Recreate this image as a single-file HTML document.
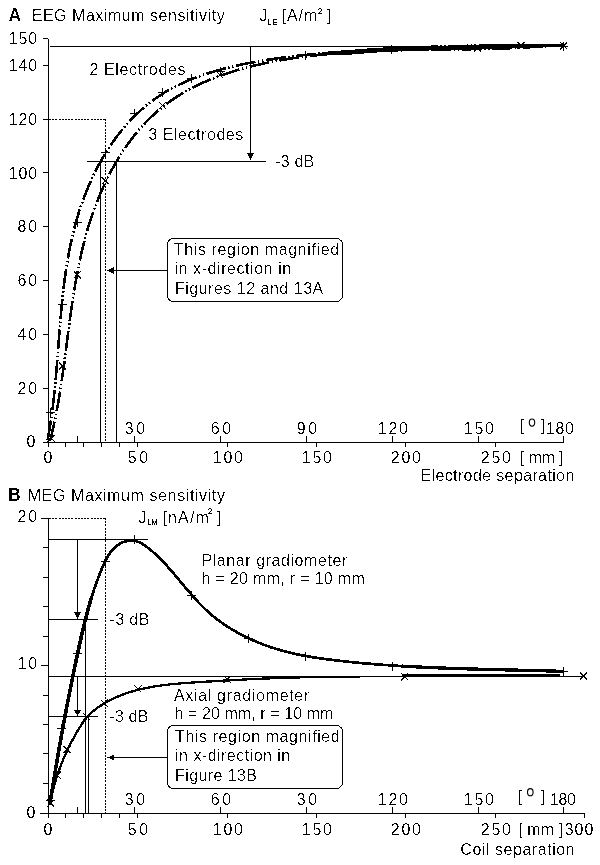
<!DOCTYPE html>
<html><head><meta charset="utf-8"><title>EEG/MEG maximum sensitivity</title>
<style>
html,body{margin:0;padding:0;background:#fff;}
svg{display:block;filter:grayscale(1);}
text{font-family:"Liberation Sans", sans-serif;fill:#000;}
</style></head><body>
<svg width="600" height="865" viewBox="0 0 600 865" shape-rendering="crispEdges">
<defs><filter id="bin" x="0" y="0" width="600" height="865" filterUnits="userSpaceOnUse"><feComponentTransfer><feFuncA type="discrete" tableValues="0 0 0 0 0 0 0 0 0 0 0 0 1 1 1 1 1 1 1 1"/></feComponentTransfer></filter></defs>
<rect width="600" height="865" fill="#fff"/>
<g filter="url(#bin)">
<text x="8.50" y="21.00" font-size="17.5" font-weight="bold">A</text>
<text x="31.70" y="21.00" font-size="16" letter-spacing="0.53">EEG Maximum sensitivity</text>
<text x="259.50" y="21.00" font-size="16">J</text>
<text x="281.70" y="21.00" font-size="16" letter-spacing="0.91">[A/m</text>
<text x="326.50" y="21.00" font-size="16">]</text>
<rect x="43" y="38" width="5" height="1"/>
<rect x="48" y="39" width="1" height="404"/>
<text x="8.71" y="44.00" font-size="16" letter-spacing="0.90">150</text>
<rect x="43" y="65" width="5" height="1"/>
<text x="8.71" y="71.00" font-size="16" letter-spacing="0.90">140</text>
<rect x="43" y="119" width="5" height="1"/>
<text x="8.71" y="125.00" font-size="16" letter-spacing="0.90">120</text>
<rect x="43" y="172" width="5" height="1"/>
<text x="8.71" y="179.00" font-size="16" letter-spacing="0.90">100</text>
<rect x="43" y="226" width="5" height="1"/>
<text x="17.59" y="232.00" font-size="16" letter-spacing="1.80">80</text>
<rect x="43" y="280" width="5" height="1"/>
<text x="17.59" y="286.00" font-size="16" letter-spacing="1.80">60</text>
<rect x="43" y="334" width="5" height="1"/>
<text x="17.59" y="340.00" font-size="16" letter-spacing="1.80">40</text>
<rect x="43" y="388" width="5" height="1"/>
<text x="17.59" y="394.00" font-size="16" letter-spacing="1.80">20</text>
<rect x="43" y="442" width="5" height="1"/>
<text x="26.52" y="447.00" font-size="16">0</text>
<rect x="43" y="442" width="521" height="1"/>
<rect x="48" y="443" width="1" height="4"/>
<rect x="65" y="443" width="1" height="4"/>
<rect x="83" y="443" width="1" height="4"/>
<rect x="101" y="443" width="1" height="4"/>
<rect x="119" y="443" width="1" height="4"/>
<rect x="137" y="443" width="1" height="4"/>
<rect x="227" y="443" width="1" height="4"/>
<rect x="316" y="443" width="1" height="4"/>
<rect x="405" y="443" width="1" height="4"/>
<rect x="495" y="443" width="1" height="4"/>
<rect x="77" y="436" width="1" height="6"/>
<rect x="134" y="436" width="1" height="6"/>
<rect x="220" y="436" width="1" height="6"/>
<rect x="306" y="436" width="1" height="6"/>
<rect x="392" y="436" width="1" height="6"/>
<rect x="478" y="436" width="1" height="6"/>
<rect x="563" y="436" width="1" height="6"/>
<text x="124.69" y="434.00" font-size="16" letter-spacing="2.60">30</text>
<text x="210.69" y="434.00" font-size="16" letter-spacing="2.60">60</text>
<text x="296.69" y="434.00" font-size="16" letter-spacing="2.60">90</text>
<text x="377.86" y="434.00" font-size="16" letter-spacing="1.70">120</text>
<text x="463.86" y="434.00" font-size="16" letter-spacing="1.70">150</text>
<text x="519.80" y="431.00" font-size="16">[</text>
<text x="541.20" y="431.00" font-size="16">]</text>
<text x="546.00" y="434.00" font-size="16" letter-spacing="0.56">180</text>
<text x="43.56" y="463.00" font-size="16">0</text>
<text x="127.69" y="463.00" font-size="16" letter-spacing="2.60">50</text>
<text x="212.86" y="463.00" font-size="16" letter-spacing="1.70">100</text>
<text x="301.86" y="463.00" font-size="16" letter-spacing="1.70">150</text>
<text x="390.86" y="463.00" font-size="16" letter-spacing="1.70">200</text>
<text x="480.86" y="463.00" font-size="16" letter-spacing="1.70">250</text>
<text x="520.00" y="463.00" font-size="16" letter-spacing="-0.13">[ mm ]</text>
<text x="420.50" y="481.00" font-size="16" letter-spacing="0.37">Electrode separation</text>
<rect x="50" y="46" width="514" height="1"/>
<rect x="250" y="47" width="1" height="107"/>
<path d="M246.75,153.00 L254.25,153.00 L250.50,160.00 Z" fill="#000"/>
<rect x="87" y="161" width="179" height="1"/>
<text x="275.30" y="167.00" font-size="16" letter-spacing="0.14">-3 dB</text>
<rect x="100" y="162" width="1" height="280"/>
<rect x="116" y="162" width="1" height="280"/>
<line x1="49" y1="119.5" x2="106" y2="119.5" stroke="#000" stroke-width="1" stroke-dasharray="2 1.2"/>
<line x1="105.5" y1="119" x2="105.5" y2="442" stroke="#000" stroke-width="1" stroke-dasharray="2 1.2"/>
<text x="89.40" y="75.00" font-size="16" letter-spacing="0.65">2 Electrodes</text>
<text x="148.30" y="140.00" font-size="16" letter-spacing="0.55">3 Electrodes</text>
<rect x="167.5" y="238.5" width="175" height="63" rx="6" ry="6" fill="none" stroke="#000"/>
<rect x="113" y="270" width="55" height="1"/>
<path d="M114.00,267.25 L114.00,273.75 L107.00,270.50 Z" fill="#000"/>
<text x="173.80" y="255.00" font-size="16" letter-spacing="0.62">This region magnified</text>
<text x="174.50" y="274.00" font-size="16" letter-spacing="0.57">in x-direction in</text>
<text x="174.90" y="294.00" font-size="16" letter-spacing="0.51">Figures 12 and 13A</text>
<path d="M47.57,440.27 L47.93,438.38 L48.29,436.49 L48.63,434.59 L48.97,432.70 L49.30,430.80 L49.62,428.90 L49.93,426.99 L50.24,425.08 L50.53,423.17 L50.83,421.26 L51.11,419.34 L51.38,417.42 L51.65,415.50 L51.92,413.57 L52.17,411.65 L52.42,409.72 L52.67,407.78 L52.91,405.85 L53.14,403.91 L53.37,401.97 L53.59,400.03 L53.81,398.09 L54.02,396.14 L54.23,394.20 L54.43,392.25 L54.63,390.30 L54.82,388.34 L55.01,386.39 L55.20,384.43 L55.38,382.47 L55.56,380.51 L55.74,378.55 L55.91,376.59 L56.08,374.63 L56.25,372.66 L56.42,370.69 L56.58,368.72 L56.74,366.75 L56.90,364.78 L57.06,362.81 L57.22,360.84 L57.37,358.86 L57.53,356.89 L57.68,354.91 L57.83,352.94 L57.98,350.96 L58.14,348.98 L58.29,347.00 L58.44,345.02 L58.59,343.04 L58.74,341.06 L58.89,339.08 L59.05,337.10 L59.20,335.12 L59.36,333.13 L59.51,331.15 L59.67,329.17 L59.83,327.19 L59.99,325.20 L60.16,323.22 L60.32,321.24 L60.49,319.25 L60.66,317.27 L60.83,315.29 L61.01,313.31 L61.19,311.32 L61.38,309.34 L61.56,307.36 L61.75,305.38 L61.95,303.40 L62.15,301.42 L62.35,299.44 L62.56,297.46 L62.77,295.48 L62.99,293.51 L63.21,291.53 L63.44,289.56 L63.67,287.58 L63.91,285.61 L64.15,283.64 L64.40,281.66 L64.66,279.69 L64.92,277.73 L65.19,275.76 L65.47,273.79 L65.75,271.83 L66.04,269.86 L66.34,267.90 L66.65,265.94 L66.96,263.98 L67.28,262.03 L67.61,260.07 L67.95,258.12 L68.29,256.17 L68.65,254.22 L69.01,252.27 L69.38,250.32 L69.76,248.38 L70.16,246.44 L70.56,244.50 L70.97,242.56 L71.39,240.63 L71.82,238.69 L72.26,236.76 L72.71,234.84 L73.17,232.91 L73.64,230.99 L74.13,229.07 L74.62,227.15 L75.13,225.24 L75.65,223.32 L76.18,221.41 L76.72,219.51 L77.28,217.60 L77.84,215.70 L78.42,213.81 L79.01,211.91 L79.62,210.02 L80.24,208.13 L80.87,206.25 L81.51,204.37 L82.17,202.49 L82.84,200.62 L83.52,198.76 L84.22,196.89 L84.93,195.04 L85.65,193.18 L86.38,191.34 L87.13,189.50 L87.89,187.66 L88.67,185.83 L89.46,184.01 L90.26,182.19 L91.07,180.38 L91.90,178.58 L92.74,176.78 L93.59,175.00 L94.46,173.21 L95.34,171.44 L96.23,169.68 L97.14,167.92 L98.06,166.17 L98.99,164.43 L99.94,162.70 L100.90,160.98 L101.88,159.27 L102.87,157.57 L103.87,155.87 L104.88,154.19 L105.91,152.52 L106.95,150.86 L108.01,149.21 L109.08,147.56 L110.16,145.94 L111.25,144.32 L112.36,142.71 L113.49,141.12 L114.63,139.53 L115.78,137.96 L116.94,136.40 L118.12,134.86 L119.31,133.32 L120.52,131.80 L121.74,130.30 L122.97,128.80 L124.22,127.33 L125.48,125.86 L126.76,124.41 L128.05,122.97 L129.35,121.55 L130.67,120.14 L132.00,118.75 L133.35,117.37 L134.71,116.01 L136.08,114.66 L137.47,113.33 L138.87,112.02 L140.29,110.72 L141.72,109.44 L143.16,108.17 L144.62,106.93 L146.09,105.70 L147.58,104.48 L149.08,103.29 L150.60,102.11 L152.12,100.95 L153.67,99.81 L155.23,98.69 L156.80,97.58 L158.39,96.50 L159.99,95.43 L161.60,94.38 L163.24,93.36 L164.88,92.35 L166.54,91.36 L168.21,90.39 L169.90,89.44 L171.59,88.51 L173.31,87.60 L175.03,86.70 L176.77,85.82 L178.51,84.96 L180.27,84.12 L182.04,83.30 L183.82,82.49 L185.61,81.69 L187.42,80.92 L189.23,80.16 L191.05,79.41 L192.88,78.69 L194.72,77.97 L196.57,77.27 L198.42,76.59 L200.29,75.92 L202.16,75.27 L204.04,74.62 L205.92,74.00 L207.81,73.38 L209.71,72.78 L211.62,72.19 L213.53,71.62 L215.44,71.06 L217.37,70.51 L219.29,69.97 L221.22,69.44 L223.16,68.93 L225.10,68.42 L227.04,67.93 L228.98,67.45 L230.93,66.97 L232.88,66.51 L234.83,66.06 L236.79,65.62 L238.74,65.19 L240.70,64.76 L242.66,64.35 L244.62,63.94 L246.58,63.54 L248.54,63.15 L250.51,62.77 L252.47,62.40 L254.44,62.04 L256.40,61.68 L258.37,61.33 L260.34,60.99 L262.31,60.66 L264.28,60.33 L266.25,60.01 L268.22,59.70 L270.19,59.40 L272.16,59.10 L274.13,58.81 L276.10,58.52 L278.08,58.25 L280.05,57.97 L282.03,57.71 L284.00,57.45 L285.97,57.19 L287.95,56.94 L289.92,56.70 L291.90,56.46 L293.88,56.22 L295.85,56.00 L297.83,55.77 L299.80,55.55 L301.78,55.34 L303.75,55.13 L305.73,54.92 L307.71,54.72 L309.68,54.52 L311.66,54.33 L313.63,54.14 L315.61,53.95 L317.58,53.77 L319.55,53.59 L321.53,53.41 L323.50,53.23 L325.47,53.06 L327.45,52.89 L329.42,52.73 L331.39,52.56 L333.36,52.40 L335.33,52.24 L337.30,52.08 L339.26,51.93 L341.23,51.77 L343.20,51.62 L345.17,51.47 L347.13,51.33 L349.10,51.18 L351.06,51.04 L353.03,50.90 L354.99,50.76 L356.96,50.62 L358.92,50.49 L360.88,50.35 L362.85,50.22 L364.81,50.10 L366.77,49.97 L368.73,49.84 L370.69,49.72 L372.65,49.60 L374.62,49.48 L376.58,49.36 L378.54,49.25 L380.50,49.14 L382.46,49.02 L384.42,48.92 L386.37,48.81 L388.33,48.70 L390.29,48.60 L392.25,48.50 L394.21,48.40 L396.17,48.30 L398.13,48.20 L400.09,48.10 L402.04,48.01 L404.00,47.92 L405.96,47.83 L407.92,47.74 L409.88,47.66 L411.84,47.57 L413.79,47.49 L415.75,47.41 L417.71,47.33 L419.67,47.25 L421.63,47.17 L423.59,47.09 L425.55,47.02 L427.51,46.95 L429.47,46.88 L431.42,46.81 L433.38,46.74 L435.34,46.68 L437.30,46.61 L439.26,46.55 L441.23,46.49 L443.19,46.43 L445.15,46.37 L447.11,46.31 L449.07,46.25 L451.03,46.20 L453.00,46.15 L454.96,46.09 L456.92,46.04 L458.88,45.99 L460.85,45.95 L462.81,45.90 L464.78,45.85 L466.74,45.81 L468.71,45.77 L470.68,45.72 L472.64,45.68 L474.61,45.65 L476.58,45.61 L478.55,45.57 L480.52,45.53 L482.49,45.50 L484.46,45.47 L486.43,45.43 L488.40,45.40 L490.37,45.37 L492.35,45.35 L494.32,45.32 L496.29,45.29 L498.27,45.26 L500.25,45.24 L502.22,45.22 L504.20,45.19 L506.18,45.17 L508.16,45.15 L510.14,45.13 L512.12,45.11 L514.10,45.10 L516.08,45.08 L518.07,45.06 L520.05,45.05 L522.03,45.03 L524.02,45.02 L526.01,45.01 L528.00,45.00 L529.99,44.99 L531.98,44.98 L533.97,44.97 L535.96,44.96 L537.95,44.95 L539.95,44.94 L541.94,44.94 L543.94,44.93 L545.94,44.93 L547.94,44.92 L549.94,44.92 L551.94,44.92 L553.94,44.91 L555.94,44.91 L557.95,44.91 L559.95,44.91 L561.96,44.91 L563.97,44.91" fill="none" stroke="#000" stroke-width="2.6" stroke-dasharray="20 2.5 1.5 2.5 1.5 2.5"/>
<path d="M50.04,441.02 L50.51,439.17 L50.98,437.31 L51.43,435.45 L51.88,433.59 L52.32,431.72 L52.75,429.86 L53.17,427.99 L53.59,426.12 L54.00,424.24 L54.40,422.37 L54.80,420.49 L55.18,418.61 L55.56,416.73 L55.94,414.85 L56.30,412.96 L56.67,411.08 L57.02,409.19 L57.37,407.30 L57.71,405.41 L58.05,403.52 L58.38,401.62 L58.71,399.73 L59.03,397.83 L59.35,395.93 L59.66,394.03 L59.97,392.13 L60.27,390.22 L60.57,388.32 L60.87,386.41 L61.16,384.51 L61.44,382.60 L61.73,380.69 L62.01,378.78 L62.29,376.87 L62.56,374.95 L62.83,373.04 L63.10,371.13 L63.37,369.21 L63.63,367.30 L63.89,365.38 L64.15,363.46 L64.41,361.54 L64.66,359.62 L64.92,357.70 L65.17,355.78 L65.42,353.86 L65.68,351.94 L65.93,350.02 L66.17,348.10 L66.42,346.17 L66.67,344.25 L66.92,342.33 L67.17,340.40 L67.42,338.48 L67.67,336.56 L67.92,334.63 L68.17,332.71 L68.42,330.78 L68.67,328.86 L68.93,326.93 L69.18,325.01 L69.44,323.08 L69.70,321.16 L69.96,319.24 L70.22,317.31 L70.48,315.39 L70.75,313.46 L71.02,311.54 L71.29,309.62 L71.57,307.70 L71.85,305.77 L72.13,303.85 L72.41,301.93 L72.70,300.01 L73.00,298.09 L73.29,296.17 L73.59,294.25 L73.90,292.33 L74.21,290.42 L74.52,288.50 L74.84,286.59 L75.17,284.67 L75.50,282.76 L75.83,280.84 L76.17,278.93 L76.52,277.02 L76.87,275.11 L77.23,273.20 L77.59,271.30 L77.96,269.39 L78.34,267.48 L78.72,265.58 L79.11,263.68 L79.51,261.78 L79.91,259.88 L80.32,257.98 L80.74,256.08 L81.17,254.19 L81.61,252.29 L82.05,250.40 L82.50,248.51 L82.96,246.62 L83.43,244.73 L83.91,242.85 L84.39,240.97 L84.89,239.08 L85.39,237.20 L85.91,235.33 L86.43,233.45 L86.97,231.58 L87.51,229.70 L88.06,227.83 L88.63,225.97 L89.20,224.10 L89.79,222.24 L90.38,220.38 L90.99,218.52 L91.61,216.66 L92.24,214.81 L92.88,212.95 L93.53,211.10 L94.19,209.26 L94.87,207.41 L95.56,205.57 L96.26,203.74 L96.97,201.90 L97.69,200.07 L98.42,198.25 L99.17,196.43 L99.93,194.61 L100.70,192.80 L101.48,190.99 L102.27,189.19 L103.08,187.40 L103.90,185.61 L104.73,183.82 L105.57,182.04 L106.42,180.27 L107.29,178.51 L108.17,176.75 L109.06,175.00 L109.96,173.26 L110.87,171.52 L111.80,169.79 L112.74,168.07 L113.69,166.36 L114.66,164.66 L115.63,162.96 L116.62,161.28 L117.62,159.60 L118.63,157.94 L119.66,156.28 L120.70,154.63 L121.75,153.00 L122.81,151.37 L123.89,149.75 L124.97,148.15 L126.07,146.55 L127.19,144.97 L128.31,143.40 L129.45,141.84 L130.60,140.29 L131.77,138.76 L132.94,137.24 L134.13,135.73 L135.33,134.23 L136.55,132.75 L137.78,131.28 L139.02,129.82 L140.27,128.38 L141.54,126.95 L142.82,125.53 L144.11,124.13 L145.41,122.75 L146.73,121.38 L148.06,120.02 L149.41,118.68 L150.76,117.36 L152.14,116.05 L153.52,114.76 L154.92,113.49 L156.33,112.23 L157.75,110.99 L159.19,109.76 L160.64,108.56 L162.10,107.37 L163.57,106.19 L165.06,105.04 L166.57,103.90 L168.08,102.78 L169.61,101.68 L171.15,100.59 L172.70,99.52 L174.26,98.47 L175.84,97.43 L177.42,96.41 L179.02,95.41 L180.63,94.42 L182.25,93.44 L183.88,92.48 L185.52,91.54 L187.17,90.62 L188.83,89.70 L190.50,88.81 L192.18,87.92 L193.87,87.06 L195.57,86.20 L197.28,85.37 L199.00,84.54 L200.73,83.73 L202.47,82.94 L204.21,82.15 L205.97,81.39 L207.73,80.63 L209.50,79.89 L211.27,79.16 L213.06,78.45 L214.85,77.74 L216.65,77.06 L218.46,76.38 L220.27,75.71 L222.09,75.06 L223.92,74.42 L225.75,73.80 L227.59,73.18 L229.43,72.58 L231.28,71.99 L233.14,71.40 L235.00,70.84 L236.87,70.28 L238.74,69.73 L240.62,69.20 L242.50,68.67 L244.39,68.16 L246.28,67.65 L248.17,67.16 L250.07,66.68 L251.97,66.20 L253.88,65.74 L255.79,65.29 L257.70,64.84 L259.62,64.41 L261.53,63.98 L263.46,63.57 L265.38,63.16 L267.30,62.76 L269.23,62.37 L271.16,61.99 L273.09,61.62 L275.03,61.25 L276.96,60.90 L278.90,60.55 L280.83,60.21 L282.77,59.88 L284.71,59.55 L286.65,59.24 L288.59,58.93 L290.52,58.62 L292.46,58.33 L294.40,58.04 L296.34,57.76 L298.28,57.48 L300.22,57.21 L302.16,56.95 L304.09,56.70 L306.03,56.45 L307.97,56.20 L309.91,55.97 L311.85,55.74 L313.79,55.51 L315.72,55.29 L317.66,55.08 L319.60,54.87 L321.54,54.67 L323.48,54.48 L325.41,54.29 L327.35,54.10 L329.29,53.92 L331.23,53.75 L333.17,53.58 L335.10,53.42 L337.04,53.26 L338.98,53.10 L340.92,52.95 L342.85,52.81 L344.79,52.67 L346.73,52.53 L348.67,52.40 L350.60,52.28 L352.54,52.15 L354.48,52.03 L356.42,51.92 L358.35,51.81 L360.29,51.70 L362.23,51.60 L364.17,51.50 L366.10,51.41 L368.04,51.32 L369.98,51.23 L371.91,51.14 L373.85,51.06 L375.79,50.98 L377.73,50.91 L379.66,50.84 L381.60,50.77 L383.54,50.70 L385.47,50.64 L387.41,50.58 L389.35,50.52 L391.28,50.46 L393.22,50.41 L395.16,50.36 L397.09,50.31 L399.03,50.26 L400.97,50.22 L402.90,50.17 L404.84,50.13 L406.78,50.09 L408.71,50.06 L410.65,50.02 L412.59,49.99 L414.52,49.95 L416.46,49.92 L418.40,49.89 L420.33,49.86 L422.27,49.83 L424.21,49.81 L426.14,49.78 L428.08,49.75 L430.01,49.73 L431.95,49.70 L433.89,49.68 L435.82,49.66 L437.76,49.63 L439.70,49.61 L441.63,49.59 L443.57,49.57 L445.50,49.54 L447.44,49.52 L449.38,49.50 L451.31,49.48 L453.25,49.45 L455.18,49.43 L457.12,49.40 L459.06,49.38 L460.99,49.35 L462.93,49.33 L464.86,49.30 L466.80,49.27 L468.74,49.24 L470.67,49.21 L472.61,49.18 L474.54,49.15 L476.48,49.11 L478.42,49.08 L480.35,49.04 L482.29,49.00 L484.22,48.96 L486.16,48.91 L488.09,48.87 L490.03,48.82 L491.97,48.77 L493.90,48.72 L495.84,48.67 L497.77,48.61 L499.71,48.55 L501.65,48.49 L503.58,48.43 L505.52,48.36 L507.45,48.29 L509.39,48.22 L511.32,48.14 L513.26,48.06 L515.19,47.98 L517.13,47.90 L519.07,47.81 L521.00,47.72 L522.94,47.62 L524.87,47.52 L526.81,47.42 L528.74,47.31 L530.68,47.20 L532.61,47.09 L534.55,46.97 L536.49,46.84 L538.42,46.72 L540.36,46.59 L542.29,46.45 L544.23,46.31 L546.16,46.16 L548.10,46.01 L550.03,45.86 L551.97,45.70 L553.91,45.53 L555.84,45.36 L557.78,45.19 L559.71,45.01 L561.65,44.82 L563.58,44.63" fill="none" stroke="#000" stroke-width="2.6" stroke-dasharray="20 2.5 1.5 2.5 1.5 2.5"/>
<path d="M320.0,53.00 L330.0,51.35 L350.0,49.92 L370.0,48.25 L390.0,47.08 L420.0,46.26 L450.0,45.64 L477.5,44.95 L500.0,44.38 L520.0,44.10 L545.0,43.89 L563.7,43.85 L563.7,47.15 L545.0,47.31 L520.0,47.70 L500.0,48.22 L477.5,49.05 L450.0,49.96 L420.0,50.74 L390.0,51.72 L370.0,52.95 L350.0,54.68 L330.0,55.25 L320.0,56.00 Z" fill="#000"/>
<path d="M46.1,412.4H55.1M50.6,407.9V416.9" stroke="#000" stroke-width="1" fill="none"/>
<path d="M58.1,304.8H67.1M62.6,300.3V309.3" stroke="#000" stroke-width="1" fill="none"/>
<path d="M72.6,222H81.6M77.1,217.5V226.5" stroke="#000" stroke-width="1" fill="none"/>
<path d="M101.1,152H110.1M105.6,147.5V156.5" stroke="#000" stroke-width="1" fill="none"/>
<path d="M129.5,113.5H138.5M134,109.0V118.0" stroke="#000" stroke-width="1" fill="none"/>
<path d="M158.0,92.9H167.0M162.5,88.4V97.4" stroke="#000" stroke-width="1" fill="none"/>
<path d="M187.0,78.5H196.0M191.5,74.0V83.0" stroke="#000" stroke-width="1" fill="none"/>
<path d="M216.0,71H225.0M220.5,66.5V75.5" stroke="#000" stroke-width="1" fill="none"/>
<path d="M300.5,55.6H309.5M305,51.1V60.1" stroke="#000" stroke-width="1" fill="none"/>
<path d="M387.1,49.5H396.1M391.6,45.0V54.0" stroke="#000" stroke-width="1" fill="none"/>
<path d="M559.2,46H568.2M563.7,41.5V50.5" stroke="#000" stroke-width="1" fill="none"/>
<path d="M47.8,434.9L54.8,441.9M47.8,441.9L54.8,434.9" stroke="#000" stroke-width="1" fill="none"/>
<path d="M59.1,362.5L66.1,369.5M59.1,369.5L66.1,362.5" stroke="#000" stroke-width="1" fill="none"/>
<path d="M73.7,271.4L80.7,278.4M73.7,278.4L80.7,271.4" stroke="#000" stroke-width="1" fill="none"/>
<path d="M101.8,177.2L108.8,184.2M101.8,184.2L108.8,177.2" stroke="#000" stroke-width="1" fill="none"/>
<path d="M159.0,101.9L166.0,108.9M159.0,108.9L166.0,101.9" stroke="#000" stroke-width="1" fill="none"/>
<path d="M216.5,71.3L223.5,78.3M216.5,78.3L223.5,71.3" stroke="#000" stroke-width="1" fill="none"/>
<path d="M474.0,44.5L481.0,51.5M474.0,51.5L481.0,44.5" stroke="#000" stroke-width="1" fill="none"/>
<path d="M517.5,42.2L524.5,49.2M517.5,49.2L524.5,42.2" stroke="#000" stroke-width="1" fill="none"/>
<path d="M560.2,42.5L567.2,49.5M560.2,49.5L567.2,42.5" stroke="#000" stroke-width="1" fill="none"/>
<text x="7.90" y="501.00" font-size="17.5" font-weight="bold">B</text>
<text x="27.70" y="501.00" font-size="16" letter-spacing="0.60">MEG Maximum sensitivity</text>
<text x="138.40" y="522.50" font-size="16">J</text>
<text x="162.50" y="522.50" font-size="16" letter-spacing="1.12">[nA/m</text>
<text x="217.00" y="522.50" font-size="16">]</text>
<rect x="48" y="518" width="1" height="296"/>
<rect x="41" y="518" width="7" height="1"/>
<text x="17.59" y="522.00" font-size="16" letter-spacing="1.80">20</text>
<rect x="43" y="547" width="5" height="1"/>
<rect x="43" y="577" width="5" height="1"/>
<rect x="43" y="606" width="5" height="1"/>
<rect x="43" y="636" width="5" height="1"/>
<rect x="41" y="665" width="7" height="1"/>
<text x="17.59" y="669.00" font-size="16" letter-spacing="1.80">10</text>
<rect x="43" y="695" width="5" height="1"/>
<rect x="43" y="724" width="5" height="1"/>
<rect x="43" y="753" width="5" height="1"/>
<rect x="43" y="783" width="5" height="1"/>
<rect x="41" y="813" width="7" height="1"/>
<text x="26.52" y="818.00" font-size="16">0</text>
<rect x="40" y="813" width="545" height="1"/>
<rect x="48" y="814" width="1" height="4"/>
<rect x="65" y="814" width="1" height="4"/>
<rect x="83" y="814" width="1" height="4"/>
<rect x="101" y="814" width="1" height="4"/>
<rect x="119" y="814" width="1" height="4"/>
<rect x="137" y="814" width="1" height="4"/>
<rect x="227" y="814" width="1" height="4"/>
<rect x="316" y="814" width="1" height="4"/>
<rect x="405" y="814" width="1" height="4"/>
<rect x="495" y="814" width="1" height="4"/>
<rect x="584" y="814" width="1" height="4"/>
<rect x="77" y="807" width="1" height="6"/>
<rect x="134" y="807" width="1" height="6"/>
<rect x="220" y="807" width="1" height="6"/>
<rect x="306" y="807" width="1" height="6"/>
<rect x="392" y="807" width="1" height="6"/>
<rect x="478" y="807" width="1" height="6"/>
<rect x="563" y="807" width="1" height="6"/>
<text x="124.69" y="805.00" font-size="16" letter-spacing="2.60">30</text>
<text x="210.69" y="805.00" font-size="16" letter-spacing="2.60">60</text>
<text x="296.69" y="805.00" font-size="16" letter-spacing="2.60">30</text>
<text x="377.86" y="805.00" font-size="16" letter-spacing="1.70">120</text>
<text x="463.86" y="805.00" font-size="16" letter-spacing="1.70">150</text>
<text x="517.80" y="802.00" font-size="16">[</text>
<text x="540.80" y="802.00" font-size="16">]</text>
<text x="550.00" y="805.00" font-size="16" letter-spacing="-0.34">180</text>
<text x="43.56" y="835.00" font-size="16">0</text>
<text x="127.69" y="835.00" font-size="16" letter-spacing="2.60">50</text>
<text x="212.86" y="835.00" font-size="16" letter-spacing="1.70">100</text>
<text x="301.86" y="835.00" font-size="16" letter-spacing="1.70">150</text>
<text x="390.86" y="835.00" font-size="16" letter-spacing="1.70">200</text>
<text x="480.86" y="835.00" font-size="16" letter-spacing="1.70">250</text>
<text x="518.20" y="835.00" font-size="16" letter-spacing="0.13">[ mm ]</text>
<text x="564.80" y="835.00" font-size="16" letter-spacing="0.91">300</text>
<text x="460.30" y="855.00" font-size="16" letter-spacing="0.54">Coil separation</text>
<line x1="49" y1="518.5" x2="106" y2="518.5" stroke="#000" stroke-width="1" stroke-dasharray="2 1.2"/>
<line x1="105.5" y1="518" x2="105.5" y2="813" stroke="#000" stroke-width="1" stroke-dasharray="2 1.2"/>
<rect x="49" y="539" width="99" height="1"/>
<rect x="77" y="540" width="1" height="72"/>
<path d="M73.75,612.00 L81.25,612.00 L77.50,619.00 Z" fill="#000"/>
<rect x="49" y="619" width="49" height="1"/>
<text x="109.50" y="625.00" font-size="16" letter-spacing="0.39">-3 dB</text>
<rect x="49" y="676" width="536" height="1"/>
<rect x="77" y="677" width="1" height="33"/>
<path d="M73.75,709.50 L81.25,709.50 L77.50,716.00 Z" fill="#000"/>
<rect x="49" y="716" width="49" height="1"/>
<text x="109.50" y="721.60" font-size="16" letter-spacing="0.14">-3 dB</text>
<rect x="85" y="620" width="1" height="193"/>
<rect x="88" y="717" width="1" height="96"/>
<text x="201.50" y="566.00" font-size="16" letter-spacing="0.57">Planar gradiometer</text>
<text x="201.50" y="584.30" font-size="16" letter-spacing="0.31">h = 20 mm, r = 10 mm</text>
<text x="173.90" y="700.60" font-size="16" letter-spacing="0.68">Axial gradiometer</text>
<text x="174.50" y="718.50" font-size="16" letter-spacing="0.08">h = 20 mm, r = 10 mm</text>
<rect x="167.5" y="725.5" width="175" height="63" rx="6" ry="6" fill="none" stroke="#000"/>
<rect x="113" y="757" width="55" height="1"/>
<path d="M114.40,754.25 L114.40,760.75 L107.40,757.50 Z" fill="#000"/>
<text x="175.10" y="742.00" font-size="16" letter-spacing="0.58">This region magnified</text>
<text x="175.10" y="760.50" font-size="16" letter-spacing="0.47">in x-direction in</text>
<text x="175.10" y="780.50" font-size="16" letter-spacing="0.39">Figure 13B</text>
<path d="M49.93,804.39 L50.21,802.54 L50.49,800.70 L50.78,798.85 L51.07,796.99 L51.36,795.14 L51.65,793.29 L51.94,791.43 L52.24,789.57 L52.53,787.71 L52.83,785.85 L53.13,783.99 L53.43,782.13 L53.74,780.26 L54.04,778.40 L54.35,776.53 L54.66,774.66 L54.96,772.79 L55.28,770.92 L55.59,769.05 L55.90,767.17 L56.22,765.30 L56.54,763.43 L56.86,761.55 L57.18,759.67 L57.50,757.80 L57.83,755.92 L58.15,754.04 L58.48,752.16 L58.81,750.28 L59.14,748.40 L59.47,746.52 L59.80,744.64 L60.14,742.76 L60.47,740.88 L60.81,739.00 L61.15,737.12 L61.49,735.24 L61.83,733.35 L62.18,731.47 L62.52,729.59 L62.87,727.71 L63.21,725.83 L63.56,723.95 L63.91,722.06 L64.26,720.18 L64.62,718.30 L64.97,716.42 L65.33,714.54 L65.68,712.66 L66.04,710.78 L66.40,708.90 L66.76,707.03 L67.12,705.15 L67.49,703.27 L67.85,701.40 L68.22,699.52 L68.58,697.65 L68.95,695.77 L69.32,693.90 L69.69,692.03 L70.06,690.16 L70.43,688.29 L70.81,686.42 L71.18,684.55 L71.56,682.69 L71.94,680.82 L72.31,678.96 L72.69,677.10 L73.07,675.24 L73.46,673.38 L73.84,671.52 L74.22,669.67 L74.61,667.81 L74.99,665.96 L75.38,664.11 L75.77,662.26 L76.15,660.41 L76.54,658.57 L76.93,656.72 L77.33,654.88 L77.72,653.04 L78.11,651.20 L78.51,649.37 L78.90,647.54 L79.30,645.70 L79.70,643.87 L80.10,642.04 L80.51,640.22 L80.92,638.39 L81.33,636.57 L81.75,634.74 L82.17,632.92 L82.59,631.10 L83.02,629.28 L83.45,627.46 L83.89,625.64 L84.33,623.82 L84.78,622.00 L85.24,620.18 L85.70,618.36 L86.17,616.54 L86.65,614.73 L87.13,612.91 L87.62,611.09 L88.12,609.27 L88.62,607.45 L89.14,605.63 L89.66,603.81 L90.20,601.99 L90.74,600.17 L91.29,598.35 L91.85,596.52 L92.42,594.70 L93.01,592.87 L93.60,591.04 L94.20,589.21 L94.82,587.38 L95.45,585.55 L96.09,583.72 L96.74,581.88 L97.40,580.05 L98.08,578.21 L98.77,576.36 L99.48,574.52 L100.19,572.67 L100.93,570.83 L101.67,568.98 L102.44,567.14 L103.23,565.31 L104.05,563.51 L104.90,561.72 L105.78,559.97 L106.70,558.26 L107.66,556.59 L108.67,554.96 L109.72,553.39 L110.82,551.89 L111.98,550.44 L113.19,549.07 L114.47,547.78 L115.81,546.58 L117.21,545.46 L118.69,544.44 L120.24,543.52 L121.87,542.71 L123.56,542.02 L125.30,541.45 L127.08,541.02 L128.88,540.73 L130.69,540.59 L132.49,540.62 L134.28,540.81 L136.03,541.18 L137.76,541.71 L139.45,542.39 L141.11,543.21 L142.75,544.13 L144.35,545.16 L145.93,546.26 L147.48,547.43 L149.01,548.64 L150.52,549.88 L152.00,551.14 L153.46,552.41 L154.90,553.71 L156.32,555.02 L157.72,556.35 L159.10,557.69 L160.47,559.05 L161.82,560.42 L163.16,561.80 L164.48,563.20 L165.78,564.60 L167.08,566.02 L168.36,567.44 L169.64,568.87 L170.90,570.31 L172.16,571.76 L173.41,573.21 L174.65,574.67 L175.88,576.13 L177.12,577.59 L178.34,579.06 L179.57,580.53 L180.79,581.99 L182.01,583.46 L183.23,584.93 L184.45,586.39 L185.67,587.85 L186.90,589.31 L188.13,590.76 L189.36,592.20 L190.60,593.64 L191.85,595.08 L193.10,596.50 L194.36,597.92 L195.63,599.32 L196.91,600.72 L198.20,602.10 L199.50,603.47 L200.81,604.83 L202.14,606.17 L203.49,607.50 L204.85,608.81 L206.22,610.10 L207.61,611.38 L209.02,612.64 L210.45,613.88 L211.89,615.11 L213.35,616.31 L214.83,617.50 L216.32,618.67 L217.83,619.83 L219.35,620.96 L220.88,622.08 L222.43,623.18 L224.00,624.26 L225.57,625.33 L227.17,626.38 L228.77,627.41 L230.38,628.42 L232.01,629.42 L233.65,630.40 L235.30,631.36 L236.96,632.30 L238.64,633.23 L240.32,634.14 L242.01,635.03 L243.72,635.90 L245.43,636.76 L247.15,637.60 L248.88,638.42 L250.62,639.23 L252.36,640.02 L254.12,640.79 L255.88,641.55 L257.65,642.28 L259.42,643.01 L261.20,643.71 L262.99,644.40 L264.78,645.07 L266.58,645.72 L268.38,646.36 L270.19,646.98 L272.00,647.58 L273.82,648.16 L275.63,648.73 L277.46,649.29 L279.28,649.82 L281.11,650.34 L282.94,650.85 L284.78,651.34 L286.62,651.82 L288.46,652.28 L290.30,652.73 L292.15,653.16 L294.00,653.59 L295.85,653.99 L297.70,654.39 L299.56,654.78 L301.42,655.15 L303.28,655.51 L305.15,655.86 L307.01,656.20 L308.88,656.54 L310.75,656.86 L312.62,657.17 L314.49,657.47 L316.37,657.76 L318.24,658.05 L320.12,658.33 L322.00,658.60 L323.88,658.86 L325.76,659.12 L327.64,659.36 L329.53,659.61 L331.41,659.85 L333.30,660.08 L335.18,660.30 L337.07,660.53 L338.95,660.74 L340.84,660.96 L342.73,661.17 L344.62,661.38 L346.51,661.58 L348.40,661.78 L350.29,661.97 L352.17,662.17 L354.06,662.35 L355.96,662.54 L357.85,662.72 L359.74,662.90 L361.63,663.08 L363.52,663.25 L365.41,663.42 L367.31,663.58 L369.20,663.74 L371.09,663.90 L372.99,664.06 L374.88,664.21 L376.77,664.36 L378.67,664.51 L380.56,664.65 L382.46,664.80 L384.35,664.93 L386.25,665.07 L388.14,665.20 L390.04,665.33 L391.94,665.46 L393.83,665.59 L395.73,665.71 L397.63,665.83 L399.53,665.95 L401.42,666.06 L403.32,666.18 L405.22,666.29 L407.12,666.39 L409.02,666.50 L410.92,666.60 L412.81,666.71 L414.71,666.80 L416.61,666.90 L418.51,667.00 L420.41,667.09 L422.31,667.18 L424.21,667.27 L426.11,667.36 L428.01,667.44 L429.91,667.53 L431.81,667.61 L433.71,667.69 L435.62,667.77 L437.52,667.84 L439.42,667.92 L441.32,667.99 L443.22,668.06 L445.12,668.14 L447.02,668.20 L448.92,668.27 L450.83,668.34 L452.73,668.40 L454.63,668.47 L456.53,668.53 L458.43,668.59 L460.34,668.65 L462.24,668.71 L464.14,668.77 L466.04,668.83 L467.95,668.88 L469.85,668.94 L471.75,668.99 L473.65,669.05 L475.56,669.10 L477.46,669.15 L479.36,669.20 L481.26,669.25 L483.17,669.30 L485.07,669.35 L486.97,669.40 L488.87,669.45 L490.77,669.50 L492.68,669.54 L494.58,669.59 L496.48,669.64 L498.38,669.68 L500.29,669.73 L502.19,669.78 L504.09,669.82 L505.99,669.87 L507.89,669.91 L509.80,669.96 L511.70,670.00 L513.60,670.05 L515.50,670.09 L517.40,670.14 L519.30,670.18 L521.20,670.23 L523.10,670.28 L525.01,670.32 L526.91,670.37 L528.81,670.42 L530.71,670.46 L532.61,670.51 L534.51,670.56 L536.41,670.61 L538.31,670.66 L540.21,670.71 L542.11,670.76 L544.01,670.81 L545.91,670.86 L547.80,670.92 L549.70,670.97 L551.60,671.03 L553.50,671.08 L555.40,671.14 L557.30,671.20 L559.19,671.25 L561.09,671.31 L562.99,671.38" fill="none" stroke="#000" stroke-width="2.7"/>
<path d="M49.93,804.39 L50.21,802.54 L50.49,800.70 L50.78,798.85 L51.07,796.99 L51.36,795.14 L51.65,793.29 L51.94,791.43 L52.24,789.57 L52.53,787.71 L52.83,785.85 L53.13,783.99 L53.43,782.13 L53.74,780.26 L54.04,778.40 L54.35,776.53 L54.66,774.66 L54.96,772.79 L55.28,770.92 L55.59,769.05 L55.90,767.17 L56.22,765.30 L56.54,763.43 L56.86,761.55 L57.18,759.67 L57.50,757.80 L57.83,755.92 L58.15,754.04 L58.48,752.16 L58.81,750.28 L59.14,748.40 L59.47,746.52 L59.80,744.64 L60.14,742.76 L60.47,740.88 L60.81,739.00 L61.15,737.12 L61.49,735.24 L61.83,733.35 L62.18,731.47 L62.52,729.59 L62.87,727.71 L63.21,725.83 L63.56,723.95 L63.91,722.06 L64.26,720.18 L64.62,718.30 L64.97,716.42 L65.33,714.54 L65.68,712.66 L66.04,710.78 L66.40,708.90 L66.76,707.03 L67.12,705.15 L67.49,703.27 L67.85,701.40 L68.22,699.52 L68.58,697.65 L68.95,695.77 L69.32,693.90 L69.69,692.03 L70.06,690.16 L70.43,688.29 L70.81,686.42 L71.18,684.55 L71.56,682.69 L71.94,680.82 L72.31,678.96 L72.69,677.10 L73.07,675.24 L73.46,673.38 L73.84,671.52 L74.22,669.67 L74.61,667.81 L74.99,665.96 L75.38,664.11 L75.77,662.26 L76.15,660.41 L76.54,658.57 L76.93,656.72 L77.33,654.88 L77.72,653.04 L78.11,651.20 L78.51,649.37 L78.90,647.54 L79.30,645.70 L79.70,643.87 L80.10,642.04 L80.51,640.22 L80.92,638.39 L81.33,636.57 L81.75,634.74 L82.17,632.92 L82.59,631.10 L83.02,629.28 L83.45,627.46 L83.89,625.64 L84.33,623.82 L84.78,622.00 L85.24,620.18 L85.70,618.36 L86.17,616.54 L86.65,614.73 L87.13,612.91 L87.62,611.09 L88.12,609.27 L88.62,607.45 L89.14,605.63 L89.66,603.81 L90.20,601.99 L90.74,600.17 L91.29,598.35" fill="none" stroke="#000" stroke-width="3.6"/>
<path d="M50.08,804.61 L50.24,803.66 L50.40,802.72 L50.57,801.77 L50.74,800.83 L50.92,799.89 L51.10,798.95 L51.29,798.01 L51.48,797.08 L51.67,796.14 L51.87,795.21 L52.08,794.28 L52.28,793.35 L52.50,792.43 L52.71,791.50 L52.94,790.58 L53.16,789.66 L53.39,788.74 L53.63,787.82 L53.86,786.90 L54.11,785.99 L54.35,785.08 L54.60,784.17 L54.86,783.26 L55.12,782.35 L55.38,781.44 L55.65,780.54 L55.92,779.64 L56.20,778.74 L56.48,777.84 L56.76,776.94 L57.05,776.04 L57.34,775.15 L57.64,774.25 L57.94,773.36 L58.24,772.47 L58.55,771.58 L58.86,770.70 L59.18,769.81 L59.50,768.93 L59.83,768.05 L60.15,767.17 L60.49,766.29 L60.82,765.41 L61.16,764.53 L61.51,763.66 L61.85,762.79 L62.20,761.91 L62.56,761.04 L62.92,760.17 L63.28,759.31 L63.65,758.44 L64.02,757.58 L64.39,756.71 L64.77,755.85 L65.15,754.99 L65.54,754.13 L65.93,753.28 L66.32,752.42 L66.71,751.57 L67.11,750.71 L67.52,749.86 L67.92,749.01 L68.34,748.16 L68.75,747.31 L69.17,746.47 L69.59,745.62 L70.01,744.78 L70.44,743.94 L70.87,743.09 L71.31,742.25 L71.75,741.42 L72.19,740.58 L72.64,739.74 L73.09,738.91 L73.54,738.07 L74.00,737.24 L74.45,736.41 L74.92,735.58 L75.38,734.75 L75.85,733.93 L76.32,733.11 L76.80,732.28 L77.27,731.46 L77.75,730.65 L78.24,729.83 L78.72,729.02 L79.21,728.21 L79.70,727.40 L80.19,726.60 L80.70,725.80 L81.20,725.01 L81.71,724.22 L82.23,723.44 L82.76,722.66 L83.30,721.89 L83.85,721.13 L84.40,720.38 L84.97,719.64 L85.55,718.90 L86.14,718.18 L86.74,717.46 L87.36,716.76 L87.99,716.06 L88.64,715.38 L89.29,714.71 L89.96,714.05 L90.65,713.40 L91.34,712.76 L92.04,712.13 L92.76,711.51 L93.48,710.90 L94.22,710.30 L94.96,709.71 L95.71,709.12 L96.47,708.55 L97.24,707.99 L98.02,707.44 L98.80,706.89 L99.59,706.36 L100.38,705.83 L101.18,705.31 L101.99,704.80 L102.79,704.30 L103.61,703.81 L104.42,703.32 L105.24,702.84 L106.06,702.37 L106.89,701.91 L107.72,701.46 L108.55,701.01 L109.38,700.57 L110.22,700.14 L111.06,699.72 L111.90,699.30 L112.74,698.89 L113.59,698.49 L114.44,698.09 L115.29,697.70 L116.14,697.32 L117.00,696.95 L117.86,696.58 L118.72,696.22 L119.59,695.86 L120.45,695.52 L121.32,695.17 L122.19,694.84 L123.07,694.51 L123.94,694.19 L124.82,693.87 L125.70,693.56 L126.58,693.26 L127.47,692.96 L128.35,692.67 L129.24,692.38 L130.13,692.10 L131.02,691.82 L131.92,691.56 L132.81,691.29 L133.71,691.03 L134.61,690.78 L135.51,690.53 L136.42,690.29 L137.32,690.05 L138.23,689.82 L139.14,689.59 L140.05,689.37 L140.96,689.15 L141.87,688.94 L142.79,688.73 L143.71,688.53 L144.62,688.33 L145.54,688.14 L146.47,687.95 L147.39,687.76 L148.31,687.58 L149.24,687.40 L150.16,687.23 L151.09,687.06 L152.02,686.90 L152.95,686.74 L153.88,686.58 L154.82,686.43 L155.75,686.28 L156.69,686.13 L157.62,685.99 L158.56,685.85 L159.50,685.71 L160.44,685.58 L161.38,685.45 L162.32,685.33 L163.26,685.20 L164.20,685.08 L165.15,684.97 L166.09,684.85 L167.04,684.74 L167.98,684.63 L168.93,684.53 L169.88,684.42 L170.83,684.32 L171.77,684.22 L172.72,684.13 L173.67,684.03 L174.62,683.94 L175.57,683.85 L176.53,683.77 L177.48,683.68 L178.43,683.60 L179.38,683.52 L180.33,683.44 L181.29,683.36 L182.24,683.28 L183.19,683.21 L184.15,683.13 L185.10,683.06 L186.06,682.99 L187.01,682.92 L187.97,682.85 L188.92,682.79 L189.87,682.72 L190.83,682.66 L191.78,682.59 L192.74,682.53 L193.69,682.47 L194.64,682.40 L195.60,682.34 L196.55,682.28 L197.51,682.22 L198.46,682.16 L199.41,682.10 L200.36,682.04 L201.32,681.98 L202.27,681.92 L203.22,681.86 L204.17,681.81 L205.12,681.75 L206.07,681.69 L207.02,681.63 L207.97,681.57 L208.92,681.51 L209.87,681.46 L210.82,681.40 L211.77,681.34 L212.72,681.28 L213.66,681.23 L214.61,681.17 L215.56,681.11 L216.51,681.06 L217.45,681.00 L218.40,680.95 L219.35,680.89 L220.29,680.84 L221.24,680.78 L222.18,680.73 L223.13,680.67 L224.07,680.62 L225.02,680.56 L225.96,680.51 L226.91,680.46 L227.85,680.40 L228.80,680.35 L229.74,680.30 L230.69,680.24 L231.63,680.19 L232.57,680.14 L233.52,680.09 L234.46,680.04 L235.40,679.99 L236.34,679.93 L237.29,679.88 L238.23,679.83 L239.17,679.78 L240.11,679.73 L241.05,679.69 L242.00,679.64 L242.94,679.59 L243.88,679.54 L244.82,679.49 L245.76,679.44 L246.70,679.40 L247.64,679.35 L248.58,679.30 L249.52,679.26 L250.46,679.21 L251.40,679.16 L252.34,679.12 L253.28,679.07 L254.22,679.03 L255.16,678.99 L256.10,678.94 L257.04,678.90 L257.98,678.85 L258.92,678.81 L259.86,678.77 L260.80,678.73 L261.74,678.69 L262.68,678.64 L263.62,678.60 L264.56,678.56 L265.50,678.52 L266.44,678.48 L267.38,678.44 L268.32,678.40 L269.26,678.37 L270.20,678.33 L271.14,678.29 L272.08,678.25 L273.02,678.22 L273.96,678.18 L274.90,678.14 L275.83,678.11 L276.77,678.07 L277.71,678.04 L278.65,678.00 L279.59,677.97 L280.53,677.94 L281.47,677.90 L282.41,677.87 L283.35,677.84 L284.29,677.81 L285.23,677.78 L286.17,677.75 L287.11,677.72 L288.05,677.69 L288.99,677.66 L289.93,677.63 L290.87,677.60 L291.81,677.57 L292.75,677.55 L293.69,677.52 L294.63,677.49 L295.57,677.47 L296.52,677.44 L297.46,677.42 L298.40,677.39 L299.34,677.37 L300.28,677.35 L301.22,677.32 L302.16,677.30 L303.11,677.28 L304.05,677.26 L304.99,677.24 L305.93,677.22 L306.88,677.20 L307.82,677.18 L308.76,677.16 L309.71,677.14 L310.65,677.12 L311.59,677.11 L312.54,677.09 L313.48,677.08 L314.42,677.06 L315.37,677.05 L316.31,677.03 L317.26,677.02 L318.20,677.01 L319.15,676.99 L320.09,676.98 L321.04,676.97 L321.99,676.96 L322.93,676.95 L323.88,676.94 L324.83,676.93 L325.77,676.92 L326.72,676.92 L327.67,676.91 L328.62,676.90 L329.56,676.90 L330.51,676.89 L331.46,676.89 L332.41,676.89 L333.36,676.88 L334.31,676.88 L335.26,676.88 L336.21,676.88 L337.16,676.88 L338.11,676.88 L339.06,676.88 L340.02,676.88 L340.97,676.88 L341.92,676.88 L342.87,676.89 L343.83,676.89 L344.78,676.90 L345.73,676.90 L346.69,676.91 L347.64,676.91 L348.60,676.92 L349.55,676.93 L350.51,676.94 L351.46,676.95 L352.42,676.96 L353.38,676.97 L354.33,676.98 L355.29,676.99 L356.25,677.00 L357.21,677.02 L358.17,677.03 L359.13,677.05 L360.09,677.06" fill="none" stroke="#000" stroke-width="2.3"/>
<rect x="402" y="674.3" width="158" height="3" fill="#000"/>
<path d="M401.42,666.06 L403.32,666.18 L405.22,666.29 L407.12,666.39 L409.02,666.50 L410.92,666.60 L412.81,666.71 L414.71,666.80 L416.61,666.90 L418.51,667.00 L420.41,667.09 L422.31,667.18 L424.21,667.27 L426.11,667.36 L428.01,667.44 L429.91,667.53 L431.81,667.61 L433.71,667.69 L435.62,667.77 L437.52,667.84 L439.42,667.92 L441.32,667.99 L443.22,668.06 L445.12,668.14 L447.02,668.20 L448.92,668.27 L450.83,668.34 L452.73,668.40 L454.63,668.47 L456.53,668.53 L458.43,668.59 L460.34,668.65 L462.24,668.71 L464.14,668.77 L466.04,668.83 L467.95,668.88 L469.85,668.94 L471.75,668.99 L473.65,669.05 L475.56,669.10 L477.46,669.15 L479.36,669.20 L481.26,669.25 L483.17,669.30 L485.07,669.35 L486.97,669.40 L488.87,669.45 L490.77,669.50 L492.68,669.54 L494.58,669.59 L496.48,669.64 L498.38,669.68 L500.29,669.73 L502.19,669.78 L504.09,669.82 L505.99,669.87 L507.89,669.91 L509.80,669.96 L511.70,670.00 L513.60,670.05 L515.50,670.09 L517.40,670.14 L519.30,670.18 L521.20,670.23 L523.10,670.28 L525.01,670.32 L526.91,670.37 L528.81,670.42 L530.71,670.46 L532.61,670.51 L534.51,670.56 L536.41,670.61 L538.31,670.66 L540.21,670.71 L542.11,670.76 L544.01,670.81 L545.91,670.86 L547.80,670.92 L549.70,670.97 L551.60,671.03 L553.50,671.08 L555.40,671.14 L557.30,671.20 L559.19,671.25 L561.09,671.31 L562.99,671.38" fill="none" stroke="#000" stroke-width="3.3"/>
<path d="M45.8,800.2H54.8M50.3,795.7V804.7" stroke="#000" stroke-width="1" fill="none"/>
<path d="M57.1,728.9H66.1M61.6,724.4V733.4" stroke="#000" stroke-width="1" fill="none"/>
<path d="M72.8,653.4H81.8M77.3,648.9V657.9" stroke="#000" stroke-width="1" fill="none"/>
<path d="M100.5,561.4H109.5M105,556.9V565.9" stroke="#000" stroke-width="1" fill="none"/>
<path d="M129.5,539.4H138.5M134,534.9V543.9" stroke="#000" stroke-width="1" fill="none"/>
<path d="M187.2,595H196.2M191.7,590.5V599.5" stroke="#000" stroke-width="1" fill="none"/>
<path d="M243.8,638.3H252.8M248.3,633.8V642.8" stroke="#000" stroke-width="1" fill="none"/>
<path d="M300.5,656H309.5M305,651.5V660.5" stroke="#000" stroke-width="1" fill="none"/>
<path d="M388.0,666.3H397.0M392.5,661.8V670.8" stroke="#000" stroke-width="1" fill="none"/>
<path d="M558.5,671.4H567.5M563,666.9V675.9" stroke="#000" stroke-width="1" fill="none"/>
<path d="M47.3,799.7L54.3,806.7M47.3,806.7L54.3,799.7" stroke="#000" stroke-width="1" fill="none"/>
<path d="M53.7,771.7L60.7,778.7M53.7,778.7L60.7,771.7" stroke="#000" stroke-width="1" fill="none"/>
<path d="M63.5,746.1L70.5,753.1M63.5,753.1L70.5,746.1" stroke="#000" stroke-width="1" fill="none"/>
<path d="M82.8,713.0L89.8,720.0M82.8,720.0L89.8,713.0" stroke="#000" stroke-width="1" fill="none"/>
<path d="M100.9,699.8L107.9,706.8M100.9,706.8L107.9,699.8" stroke="#000" stroke-width="1" fill="none"/>
<path d="M134.5,685.5L141.5,692.5M134.5,692.5L141.5,685.5" stroke="#000" stroke-width="1" fill="none"/>
<path d="M223.7,675.9L230.7,682.9M223.7,682.9L230.7,675.9" stroke="#000" stroke-width="1" fill="none"/>
<path d="M401.1,673.3L408.1,680.3M401.1,680.3L408.1,673.3" stroke="#000" stroke-width="1" fill="none"/>
<path d="M580.0,672.7L587.0,679.7M580.0,679.7L587.0,672.7" stroke="#000" stroke-width="1" fill="none"/>
</g>
<rect x="268" y="19" width="1" height="1"/>
<rect x="273" y="19" width="4" height="1"/>
<rect x="268" y="20" width="1" height="1"/>
<rect x="273" y="20" width="1" height="1"/>
<rect x="268" y="21" width="1" height="1"/>
<rect x="273" y="21" width="1" height="1"/>
<rect x="268" y="22" width="1" height="1"/>
<rect x="273" y="22" width="4" height="1"/>
<rect x="268" y="23" width="1" height="1"/>
<rect x="273" y="23" width="1" height="1"/>
<rect x="268" y="24" width="3" height="1"/>
<rect x="273" y="24" width="4" height="1"/>
<rect x="319" y="8" width="2" height="1"/>
<rect x="318" y="9" width="1" height="1"/>
<rect x="321" y="9" width="1" height="1"/>
<rect x="321" y="10" width="1" height="1"/>
<rect x="320" y="11" width="1" height="1"/>
<rect x="319" y="12" width="1" height="1"/>
<rect x="318" y="13" width="4" height="1"/>
<ellipse cx="532" cy="422.6" rx="2.7" ry="3.6" fill="none" stroke="#000" stroke-width="1.1" shape-rendering="geometricPrecision"/>
<rect x="148" y="519" width="1" height="1"/>
<rect x="152" y="519" width="1" height="1"/>
<rect x="156" y="519" width="1" height="1"/>
<rect x="148" y="520" width="1" height="1"/>
<rect x="152" y="520" width="1" height="1"/>
<rect x="156" y="520" width="1" height="1"/>
<rect x="148" y="521" width="1" height="1"/>
<rect x="152" y="521" width="2" height="1"/>
<rect x="155" y="521" width="2" height="1"/>
<rect x="148" y="522" width="1" height="1"/>
<rect x="152" y="522" width="2" height="1"/>
<rect x="155" y="522" width="2" height="1"/>
<rect x="148" y="523" width="1" height="1"/>
<rect x="152" y="523" width="1" height="1"/>
<rect x="154" y="523" width="1" height="1"/>
<rect x="156" y="523" width="1" height="1"/>
<rect x="148" y="524" width="3" height="1"/>
<rect x="152" y="524" width="1" height="1"/>
<rect x="154" y="524" width="1" height="1"/>
<rect x="156" y="524" width="1" height="1"/>
<rect x="209" y="508" width="2" height="1"/>
<rect x="208" y="509" width="1" height="1"/>
<rect x="211" y="509" width="1" height="1"/>
<rect x="211" y="510" width="1" height="1"/>
<rect x="210" y="511" width="1" height="1"/>
<rect x="209" y="512" width="1" height="1"/>
<rect x="208" y="513" width="4" height="1"/>
<ellipse cx="530.3" cy="792.2" rx="2.8" ry="3.6" fill="none" stroke="#000" stroke-width="1.1" shape-rendering="geometricPrecision"/>
</svg>
</body></html>
